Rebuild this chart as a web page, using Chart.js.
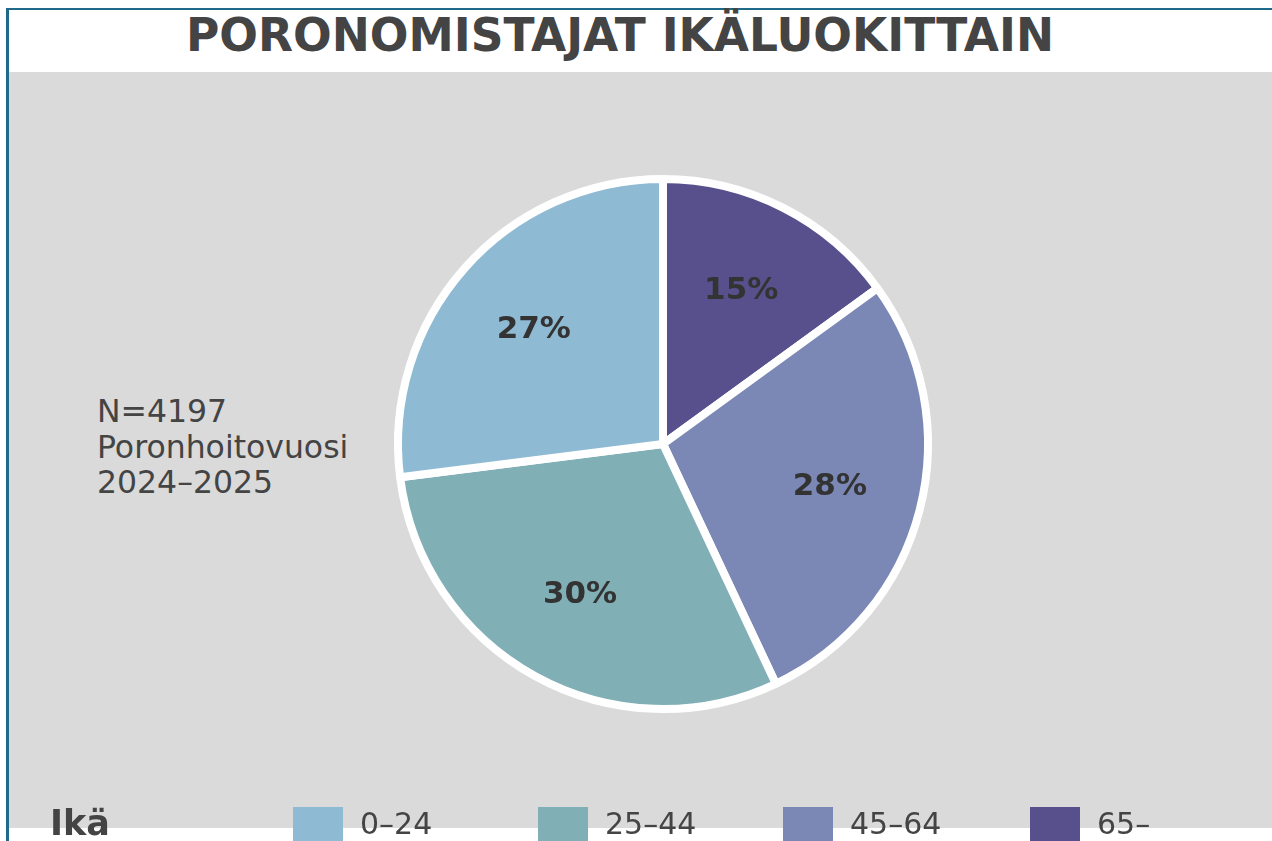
<!DOCTYPE html>
<html>
<head>
<meta charset="utf-8">
<script src="https://cdn.jsdelivr.net/npm/chart.js@4"></script>
<style>
  html, body { margin: 0; padding: 0; background: #fff; }
  body { width: 1272px; height: 841px; position: relative; overflow: hidden; font-family: "DejaVu Sans", sans-serif; }
  #frame { position: absolute; left: 6px; top: 8px; right: 0; bottom: 0; border-left: 3px solid #1f6a8a; border-top: 2px solid #1f6a8a; }
  #bg { position: absolute; left: 9px; top: 72px; right: 0; height: 756px; background: #dadada; }
  #title { position: absolute; left: 0; width: 1240px; top: 9px; text-align: center; font-weight: bold; font-size: 45.5px; color: #444; }
  #note { position: absolute; left: 97px; top: 394px; font-size: 31.5px; line-height: 35.5px; color: #444; }
  #chartDiv { position: absolute; left: 0; top: 0; width: 1272px; height: 841px; }
  #legend { position: absolute; left: 0; top: 804px; width: 1272px; height: 40px; }
  #legend .ttl { position: absolute; left: 50px; top: -1px; font-size: 35px; font-weight: bold; color: #444; }
  #legend .box { position: absolute; top: 3px; width: 50px; height: 34px; }
  #legend .lbl { position: absolute; top: 2px; font-size: 30px; color: #444; }
</style>
</head>
<body>
<div id="frame"></div>
<div id="bg"></div>
<div id="title">PORONOMISTAJAT IKÄLUOKITTAIN</div>
<div id="note">N=4197<br>Poronhoitovuosi<br>2024–2025</div>
<div id="chartDiv"><canvas id="myChart"></canvas></div>
<div id="legend"></div>
<script>
// Ikäluokat ja osuudet (%)
const ikaluokat = ['0–24', '25–44', '45–64', '65–'];
const osuudet = [27, 30, 28, 15];
const varit = ['#8fbad3', '#80afb5', '#7b88b5', '#57508c'];

// Piirakka kulkee vastapäivään, joten käännetään järjestys
const pieLabels = ikaluokat.slice().reverse();
const pieData = osuudet.slice().reverse();
const pieColors = varit.slice().reverse();

// Prosenttitekstit lohkojen päälle
const labelPlugin = {
  id: 'sliceLabels',
  afterDatasetsDraw(chart) {
    const ctx = chart.ctx;
    const meta = chart.getDatasetMeta(0);
    ctx.save();
    ctx.font = 'bold 31px "DejaVu Sans"';
    ctx.fillStyle = '#333';
    ctx.textAlign = 'center';
    ctx.textBaseline = 'middle';
    meta.data.forEach((arc, i) => {
      const p = arc.getProps(['x', 'y', 'startAngle', 'endAngle', 'outerRadius'], true);
      const a = (p.startAngle + p.endAngle) / 2;
      const r = p.outerRadius * 0.65;
      ctx.fillText(pieData[i] + '%', p.x + Math.cos(a) * r, p.y + Math.sin(a) * r);
    });
    ctx.restore();
  }
};

const cx = 663, cy = 444, rad = 269;
const config = {
  type: 'pie',
  data: {
    labels: pieLabels,
    datasets: [{
      data: pieData,
      backgroundColor: pieColors,
      borderColor: '#fff',
      borderWidth: 8
    }]
  },
  options: {
    responsive: true,
    maintainAspectRatio: false,
    animation: false,
    layout: {
      padding: { left: cx - rad, right: 1272 - cx - rad, top: cy - rad, bottom: 841 - cy - rad }
    },
    plugins: {
      legend: { display: false },
      tooltip: { enabled: false }
    }
  },
  plugins: [labelPlugin]
};

let myChart = new Chart(document.getElementById('myChart'), config);

// Oma selite alareunaan
const legend = document.getElementById('legend');
legend.innerHTML = '<span class="ttl">Ikä</span>';
const boxX = [293, 538, 783, 1030];
ikaluokat.forEach((l, i) => {
  legend.innerHTML += `<span class="box" style="left:${boxX[i]}px;background:${varit[i]}"></span>` +
    `<span class="lbl" style="left:${boxX[i] + 67}px">${l}</span>`;
});
</script>
</body>
</html>
